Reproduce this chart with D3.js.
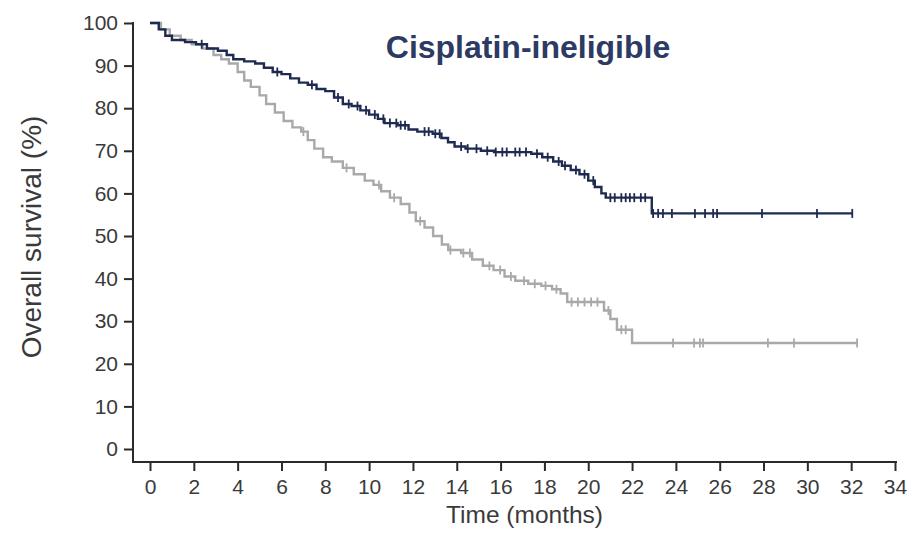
<!DOCTYPE html>
<html>
<head>
<meta charset="utf-8">
<script src="https://cdn.jsdelivr.net/npm/d3@7"></script>
<style>
  body { margin: 0; background: #fff; }
  .axis text { font-family: "Liberation Sans", Arial, sans-serif; font-size: 21px; fill: #3a3a3a; }
  .axis line { stroke: #2a2a2a; stroke-width: 2; }
  .label { font-family: "Liberation Sans", Arial, sans-serif; fill: #3a3a3a; }
</style>
</head>
<body>
<div id="km"></div>
<script>
// tick labels
const monthTicks = [0, 2, 4, 6, 8, 10, 12, 14, 16, 18, 20, 22, 24, 26, 28, 30, 32, 34];
const survTicks = [0, 10, 20, 30, 40, 50, 60, 70, 80, 90, 100];

// dark arm: step times (months) and survival (%)
const darkTime = [0, 0.4, 0.7, 1.0, 1.6, 2.1, 2.6, 3.1, 3.5, 3.8, 4.3, 4.8, 5.2, 5.6, 6.0, 6.4, 6.8, 7.2, 7.6, 8.0,
  8.4, 8.8, 9.2, 9.6, 10.0, 10.4, 10.7, 11.3, 11.8, 12.2, 12.9, 13.3, 13.6, 13.9, 14.4, 15.1, 15.7, 17.4, 17.9,
  18.4, 18.8, 19.2, 19.6, 20.0, 20.3, 20.6, 20.8, 22.9];
const darkSurv = [100, 98.5, 97, 96, 95.5, 95, 94, 93.5, 92.5, 91.5, 91, 90.5, 89.5, 88.5, 88, 87, 86, 85.5, 84.5, 84,
  82.5, 81, 80.5, 79.5, 78.5, 77.5, 76.5, 76, 75, 74.5, 74, 73, 72, 71, 70.5, 70, 69.7, 69.3, 68.5,
  67.5, 66.5, 65.5, 64.5, 63, 61.5, 60, 59, 55.3];
const darkEnd = 32.05;
const darkCensor = [2.36, 5.81, 7.39, 8.58, 9.07, 9.47, 9.86, 10.26, 10.65, 10.95, 11.24, 11.44, 11.64, 12.53, 12.72,
  13.02, 13.22, 14.2, 14.5, 14.9, 15.39, 15.78, 16.08, 16.28, 16.67, 16.87, 17.16, 17.66, 18.15, 18.65, 18.94,
  19.44, 19.83, 20.23, 21.01, 21.21, 21.51, 21.71, 21.9, 22.1, 22.4, 22.6, 22.96, 23.19, 23.41, 23.82, 24.87,
  25.33, 25.7, 25.88, 27.93, 30.44, 32.05];

// grey arm
const greyTime = [0, 0.5, 0.9, 1.4, 1.9, 2.4, 2.9, 3.25, 3.6, 4.0, 4.3, 4.6, 5.0, 5.3, 5.7, 6.1, 6.5, 6.9, 7.2, 7.5,
  7.9, 8.3, 8.8, 9.3, 9.8, 10.2, 10.55, 10.95, 11.44, 11.84, 12.13, 12.53, 12.92, 13.32, 13.61, 14.2, 14.7, 15.19,
  15.68, 16.18, 16.67, 17.26, 17.86, 18.35, 18.74, 19.04, 20.72, 21.01, 21.31, 22.0];
const greySurv = [100, 98.5, 97, 96, 95, 94, 92.5, 91.5, 90.5, 88.5, 86.5, 85, 83, 81, 79, 77, 75.5, 74.5, 72.5, 70.5,
  68.5, 67.5, 66, 64.5, 63, 62, 60.5, 59, 57.5, 55.5, 53.5, 52, 50, 48, 46.7, 46, 44.5, 43, 42,
  40.5, 39.5, 38.8, 38.3, 37.5, 36.5, 34.5, 32.5, 30.5, 28, 24.9];
const greyEnd = 32.27;
const greyCensor = [7.0, 8.97, 10.45, 11.14, 12.33, 13.71, 14.3, 14.6, 15.49, 15.98, 16.47, 17.07, 17.56, 18.05,
  18.55, 19.24, 19.53, 19.83, 20.13, 20.42, 20.92, 21.51, 21.71, 23.87, 24.83, 25.1, 25.24, 28.2, 29.39, 32.27];

const svg = d3.select('#km').append('svg')
  .attr('width', 908)
  .attr('height', 536);

const x = d3.scaleLinear().domain([0, 34]).range([150, 895]);
const y = d3.scaleLinear().domain([0, 100]).range([449, 23]);
const axisX = 133, axisY = 462;

// axes
let yAxisG = svg.append('g').attr('class', 'axis')
  .attr('transform', `translate(${axisX},0)`)
  .call(d3.axisLeft(y).tickValues(survTicks).tickSize(9).tickPadding(6));
yAxisG.select('.domain').remove();

let xAxisG = svg.append('g').attr('class', 'axis')
  .attr('transform', `translate(0,${axisY})`)
  .call(d3.axisBottom(x).tickValues(monthTicks).tickSize(9).tickPadding(8));
xAxisG.select('.domain').remove();

svg.append('line')
  .attr('x1', axisX).attr('x2', axisX)
  .attr('y1', y(100) - 1).attr('y2', axisY + 1)
  .style('stroke', '#2a2a2a').style('stroke-width', 2);
svg.append('line')
  .attr('x1', axisX - 1).attr('x2', x(34) + 2)
  .attr('y1', axisY).attr('y2', axisY)
  .style('stroke', '#2a2a2a').style('stroke-width', 2);

// axis titles
svg.append('text').attr('class', 'label')
  .attr('transform', 'translate(31,237) rotate(-90)')
  .attr('text-anchor', 'middle')
  .attr('dominant-baseline', 'central')
  .style('font-size', '28px')
  .text('Overall survival (%)');

svg.append('text').attr('class', 'label')
  .attr('x', (x(0) + x(34)) / 2 + 2)
  .attr('y', 523)
  .attr('text-anchor', 'middle')
  .style('font-size', '24.5px')
  .text('Time (months)');

svg.append('text')
  .attr('x', 528).attr('y', 58)
  .attr('text-anchor', 'middle')
  .style('font-family', '"Liberation Sans", Arial, sans-serif')
  .style('font-weight', 'bold')
  .style('font-size', '32px')
  .style('fill', '#2d3a63')
  .text('Cisplatin-ineligible');

// curves
const stepLine = d3.line().x(d => x(d.t)).y(d => y(d.s)).curve(d3.curveStepAfter);

function drawArm(times, surv, end, censor, colour) {
  let pts = times.map((t, i) => ({t: t, s: surv[i]}));
  pts.push({t: end, s: surv[surv.length - 1]});
  let g = svg.append('g');
  g.append('path')
    .datum(pts)
    .attr('d', stepLine)
    .style('fill', 'none')
    .style('stroke', colour)
    .style('stroke-width', 2.4);
  let bis = d3.bisector(d => d).right;
  g.selectAll('line.cens')
    .data(censor)
    .join('line')
    .attr('class', 'cens')
    .attr('x1', d => x(d)).attr('x2', d => x(d))
    .attr('y1', d => y(surv[bis(times, d) - 1]) - 4.5)
    .attr('y2', d => y(surv[bis(times, d) - 1]) + 4.5)
    .style('stroke', colour)
    .style('stroke-width', 1.8);
}

drawArm(greyTime, greySurv, greyEnd, greyCensor, '#a9a9a9');
drawArm(darkTime, darkSurv, darkEnd, darkCensor, '#1e2a50');
</script>
</body>
</html>
